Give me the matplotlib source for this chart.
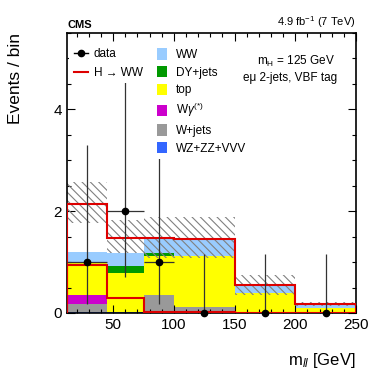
import numpy as np
import matplotlib
matplotlib.use("Agg")
import matplotlib.pyplot as plt
from matplotlib.ticker import MultipleLocator
from matplotlib.lines import Line2D
from matplotlib.patches import Patch

plt.rcParams['font.family'] = ['Liberation Sans', 'DejaVu Sans']
plt.rcParams['mathtext.fontset'] = 'custom'
plt.rcParams['mathtext.rm'] = 'Liberation Sans'
plt.rcParams['mathtext.it'] = 'Liberation Sans:italic'
plt.rcParams['hatch.linewidth'] = 0.8

# ---- data ----
bin_edges = [12, 45, 75, 100, 150, 200, 250]
wz_zz_vvv = [0.02, 0.02, 0.00, 0.00, 0.00, 0.00]
w_jets    = [0.16, 0.00, 0.35, 0.12, 0.00, 0.00]
w_gamma   = [0.17, 0.00, 0.00, 0.00, 0.00, 0.00]
top       = [0.63, 0.76, 0.77, 1.00, 0.39, 0.10]
dy_jets   = [0.02, 0.15, 0.06, 0.00, 0.00, 0.00]
ww        = [0.20, 0.25, 0.27, 0.33, 0.16, 0.08]
signal    = [0.95, 0.30, 0.02, 0.01, 0.00, 0.00]
unc_low   = [1.77, 1.18, 1.08, 1.08, 0.35, 0.13]
unc_high  = [2.57, 1.82, 1.88, 1.88, 0.75, 0.21]
data_x    = [28.5, 60, 87.5, 125, 175, 225]
data_y    = [1, 2, 1, 0, 0, 0]
data_err_lo = [0.83, 1.29, 0.83, 0.0, 0.0, 0.0]
data_err_hi = [2.30, 2.64, 2.30, 1.15, 1.15, 1.15]

bkg_names  = ['WZ+ZZ+VVV', 'W+jets', r'W$\gamma^{(*)}$', 'top', 'DY+jets', 'WW']
bkg_values = [wz_zz_vvv, w_jets, w_gamma, top, dy_jets, ww]
bkg_colors = ['#3366ff', '#999999', '#cc00cc', '#ffff00', '#009900', '#99ccff']

edges = np.array(bin_edges, dtype=float)
widths = np.diff(edges)

fig = plt.figure(figsize=(3.74, 3.92), dpi=100)
ax = fig.add_axes([67/374, 1-313/392, 289/374, 280/392])

bottom = np.zeros(len(widths))
for vals, col in zip(bkg_values, bkg_colors):
    v = np.array(vals)
    ax.bar(edges[:-1], v, width=widths, bottom=bottom, align='edge',
           color=col, linewidth=0, zorder=1)
    bottom = bottom + v
total = bottom + np.array(signal)

lo = np.array(unc_low); hi = np.array(unc_high)
ax.bar(edges[:-1], hi - lo, width=widths, bottom=lo, align='edge', fill=False,
       hatch='\\\\\\\\', edgecolor='#808080', linewidth=0, zorder=2)

ax.stairs(total, edges, color='#dd0000', linewidth=1.5, baseline=0, zorder=3)
ax.stairs(signal, edges, color='#dd0000', linewidth=1.5, baseline=0, zorder=3)

dy = np.array(data_y, dtype=float)
xerr = np.where(dy > 0, widths / 2, 0)
ax.errorbar(data_x, data_y, yerr=[data_err_lo, data_err_hi], xerr=xerr,
            fmt='o', color='black', ecolor='#333333', elinewidth=0.9,
            markersize=4.5, capsize=0, zorder=4, clip_on=False)

ax.set_xlim(12, 250)
ax.set_ylim(0, 5.5)
ax.xaxis.set_major_locator(MultipleLocator(50))
ax.xaxis.set_minor_locator(MultipleLocator(10))
ax.yaxis.set_major_locator(MultipleLocator(2))
ax.yaxis.set_minor_locator(MultipleLocator(0.5))
ax.tick_params(which='both', direction='in', top=True, right=True, labelsize=11, width=0.8)
ax.tick_params(which='major', length=6)
ax.tick_params(which='minor', length=3)
for s in ax.spines.values():
    s.set_linewidth(1.2)

ax.set_ylabel('Events / bin', fontsize=12.5, loc='top', labelpad=22)
ax.set_xlabel(r'm$_{ll}$ [GeV]', fontsize=12, loc='right', labelpad=14)

ax.text(0.0, 1.012, 'CMS', transform=ax.transAxes, fontsize=8, weight='bold',
        ha='left', va='bottom')
ax.text(1.0, 1.012, r'4.9 fb$^{-1}$ (7 TeV)', transform=ax.transAxes, fontsize=8,
        ha='right', va='bottom')
ax.text(0.927, 0.90, r'm$_{\rm H}$ = 125 GeV', transform=ax.transAxes, fontsize=8.5,
        ha='right', va='center', zorder=10)
ax.text(0.934, 0.839, 'eμ 2-jets, VBF tag', transform=ax.transAxes, fontsize=8.5,
        ha='right', va='center', zorder=10)

h1 = [Line2D([], [], color='black', marker='o', markersize=4.5, linewidth=1),
      Line2D([], [], color='#dd0000', linewidth=1.5)]
leg1 = ax.legend(h1, ['data', 'H → WW'], loc='upper left',
                 bbox_to_anchor=(0.007, 0.9625), fontsize=8.5, frameon=True,
                 facecolor='white', edgecolor='none', framealpha=1, fancybox=False,
                 borderpad=0.4, borderaxespad=0, handlelength=1.2,
                 handletextpad=0.5, labelspacing=0.55)
ax.add_artist(leg1)

order = [5, 4, 3, 2, 1, 0]
h2 = [Patch(facecolor=bkg_colors[i], edgecolor='none') for i in order]
l2 = [bkg_names[i] for i in order]
leg2 = ax.legend(h2, l2, loc='upper left', bbox_to_anchor=(0.294, 0.962),
                 fontsize=8.5, frameon=True, facecolor='white', edgecolor='none',
                 framealpha=1, fancybox=False, borderpad=0.4, borderaxespad=0,
                 handlelength=0.85, handleheight=1.1, handletextpad=0.75,
                 labelspacing=0.42)

fig.savefig('out.png', dpi=100)
